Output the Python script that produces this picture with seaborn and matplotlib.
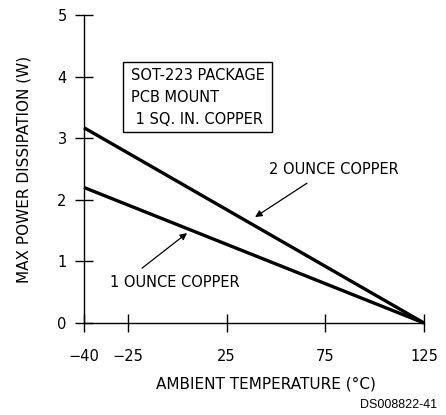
import numpy as np
import pandas as pd
import matplotlib
matplotlib.use("Agg")
import matplotlib.pyplot as plt
from matplotlib.patches import Rectangle
import seaborn as sns

# Derating curves: max power vs ambient temperature
temps_2oz = [-40, 125]
power_2oz = [3.17, 0.0]
temps_1oz = [-40, 125]
power_1oz = [2.2, 0.0]

x_ticks = [-40, -25, 25, 75, 125]
y_ticks = [0, 1, 2, 3, 4, 5]

df = pd.DataFrame({
    "temp": temps_2oz + temps_1oz,
    "power": power_2oz + power_1oz,
    "series": ["2 OUNCE COPPER"] * 2 + ["1 OUNCE COPPER"] * 2,
})

sns.set_style("ticks")
plt.rcParams["font.family"] = ["DejaVu Sans"]
plt.rcParams["text.color"] = "black"
plt.rcParams["axes.labelcolor"] = "black"

fig = plt.figure(figsize=(4.46, 4.15), dpi=100)
ax = fig.add_axes([84 / 446, 1 - 323 / 415, 340 / 446, 308 / 415])

# Axis is stretched below -25 (break between -40 and -25)
K = 1.487


def fwd(x):
    x = np.asarray(x, dtype=float)
    return np.where(x >= -25, x, -25 + (x + 25) * K)


def inv(x):
    x = np.asarray(x, dtype=float)
    return np.where(x >= -25, x, -25 + (x + 25) / K)


ax.set_xscale("function", functions=(fwd, inv))

sns.lineplot(data=df, x="temp", y="power", hue="series",
             palette=["black", "black"], linewidth=2.4, legend=False,
             ax=ax, clip_on=False, solid_capstyle="butt")

ax.set_xlim(-40, 125)
ax.set_ylim(0, 5)
ax.set_xticks(x_ticks)
ax.set_xticklabels([str(t).replace("-", "\u2212") for t in x_ticks])
ax.set_yticks(y_ticks)

for s in ["top", "right"]:
    ax.spines[s].set_visible(False)
for s in ["left", "bottom"]:
    ax.spines[s].set_linewidth(1.0)
    ax.spines[s].set_color("black")

ax.tick_params(axis="both", direction="inout", length=13, width=1.0,
               color="black", labelsize=10.5, labelcolor="black")
ax.tick_params(axis="x", pad=12)
ax.tick_params(axis="y", pad=6)

ax.set_xlabel("AMBIENT TEMPERATURE (\u00b0C)", fontsize=11)
ax.set_ylabel("MAX POWER DISSIPATION (W)", fontsize=11)
ax.xaxis.set_label_coords(0.535, -0.175)
ax.yaxis.set_label_coords(-0.155, 0.5)

# Package info box
ax.add_patch(Rectangle((0.1147, 0.620), 0.553 - 0.1147, 0.847 - 0.620,
                       transform=ax.transAxes, fill=False, lw=1.0,
                       edgecolor="black"))
for ty, line in zip([0.802, 0.731, 0.662],
                    ["SOT-223 PACKAGE", "PCB MOUNT", " 1 SQ. IN. COPPER"]):
    ax.text(0.138, ty, line, transform=ax.transAxes, fontsize=10.5,
            va="center", ha="left", color="black")

arrow = dict(arrowstyle="-|>", lw=0.9, color="black",
             mutation_scale=10, shrinkA=0, shrinkB=0)
ax.text(79.4, 2.5, "2 OUNCE COPPER", fontsize=10.5, ha="center",
        va="center", color="black")
ax.annotate("", xy=(39.4, 1.72), xytext=(65.7, 2.27), arrowprops=arrow)
ax.text(-1.2, 0.65, "1 OUNCE COPPER", fontsize=10.5, ha="center",
        va="center", color="black")
ax.annotate("", xy=(4.9, 1.46), xytext=(-17.9, 0.89), arrowprops=arrow)

fig.text(437 / 446, 1 - 405 / 415, "DS008822-41", fontsize=9,
         family=["Liberation Sans", "DejaVu Sans"], ha="right", va="center",
         color="black")

fig.savefig("out.png", dpi=100)
